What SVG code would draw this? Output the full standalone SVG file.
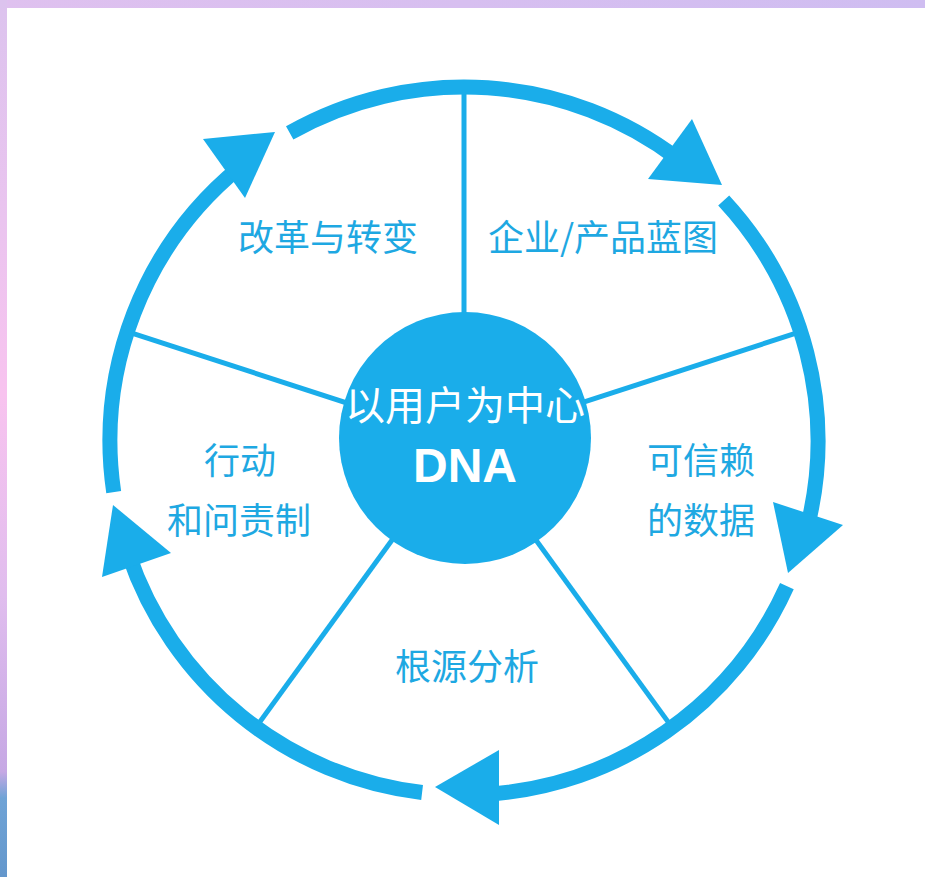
<svg xmlns="http://www.w3.org/2000/svg" width="925" height="877" viewBox="0 0 925 877">
  <defs>
    <linearGradient id="topBand" x1="0" y1="0" x2="1" y2="0">
      <stop offset="0" stop-color="#dfc1ef"/>
      <stop offset="1" stop-color="#cfbdf1"/>
    </linearGradient>
    <linearGradient id="leftBand" x1="0" y1="0" x2="0" y2="1">
      <stop offset="0" stop-color="#dcc3ee"/>
      <stop offset="0.25" stop-color="#eac4ef"/>
      <stop offset="0.45" stop-color="#f8c3ef"/>
      <stop offset="0.68" stop-color="#e0bdee"/>
      <stop offset="0.88" stop-color="#c6a8e4"/>
      <stop offset="0.91" stop-color="#6fa3d6"/>
      <stop offset="1" stop-color="#6497cc"/>
    </linearGradient>
    <style>
      .ring { fill: none; stroke: #1aadea; stroke-width: 15; }
      .spoke { stroke: #1aadea; stroke-width: 5; }
      .head { fill: #1aadea; }
      .lbl { font-family: "Noto Sans CJK SC", "Noto Sans", sans-serif; font-size: 36px; fill: #1ea8e2; text-anchor: middle; }
      .ctr { font-family: "Noto Sans CJK SC", "Noto Sans", sans-serif; font-size: 40px; fill: #ffffff; text-anchor: middle; }
      .dna { font-family: "Liberation Sans", Arial, sans-serif; font-size: 48px; font-weight: bold; fill: #ffffff; text-anchor: middle; }
    </style>
  </defs>

  <rect x="0" y="0" width="925" height="877" fill="#ffffff"/>
  <rect x="0" y="0" width="925" height="8" fill="url(#topBand)"/>
  <rect x="0" y="0" width="7" height="877" fill="url(#leftBand)"/>

  <g id="connectors">
    <line class="spoke" x1="464" y1="441" x2="464" y2="87"/>
    <line class="spoke" x1="464" y1="441" x2="800.7" y2="331.6"/>
    <line class="spoke" x1="464" y1="441" x2="672.1" y2="727.4"/>
    <line class="spoke" x1="464" y1="441" x2="255.9" y2="727.4"/>
    <line class="spoke" x1="464" y1="441" x2="127.3" y2="331.6"/>

    <path class="ring" d="M289.7,132.9 A354,354 0 0 1 678.0,159.0"/>
    <path class="ring" d="M723.7,200.5 A354,354 0 0 1 807.6,526.0"/>
    <path class="ring" d="M786.9,586.1 A354,354 0 0 1 487.5,794.2"/>
    <path class="ring" d="M422.1,792.5 A354,354 0 0 1 128.7,554.5"/>
    <path class="ring" d="M113.7,492.1 A354,354 0 0 1 239.3,167.5"/>

    <polygon class="head" points="275,132 203,139 245,198"/>
    <polygon class="head" points="722,185 692,119 648,179"/>
    <polygon class="head" points="788,573 773,502 843,525"/>
    <polygon class="head" points="435,787 499,750 499,825"/>
    <polygon class="head" points="113,505 102,577 171,553"/>
  </g>

  <g id="node-center">
    <circle cx="465" cy="438" r="126" fill="#1aadea"/>
    <text class="ctr" x="465" y="420">以用户为中心</text>
    <text class="dna" x="465" y="482">DNA</text>
  </g>

  <g id="node-transform">
    <text class="lbl" x="328" y="251">改革与转变</text>
  </g>
  <g id="node-blueprint">
    <text class="lbl" x="603" y="251">企业/产品蓝图</text>
  </g>
  <g id="node-data">
    <text class="lbl" x="701" y="474">可信赖</text>
    <text class="lbl" x="701" y="534">的数据</text>
  </g>
  <g id="node-rootcause">
    <text class="lbl" x="467" y="680">根源分析</text>
  </g>
  <g id="node-action">
    <text class="lbl" x="240" y="474">行动</text>
    <text class="lbl" x="239" y="534">和问责制</text>
  </g>
</svg>
